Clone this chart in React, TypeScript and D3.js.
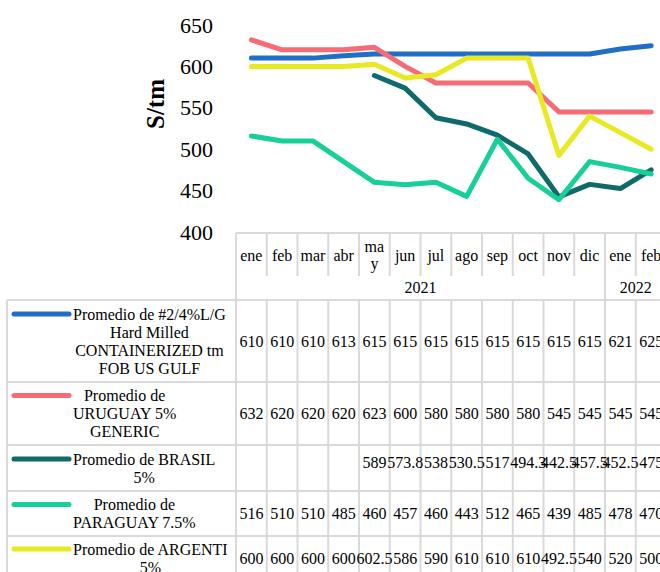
import React, { useEffect, useRef } from 'react'
import * as d3 from 'd3'

// months on the category axis
const months = ['ene', 'feb', 'mar', 'abr', 'may', 'jun', 'jul', 'ago', 'sep', 'oct', 'nov', 'dic', 'ene', 'feb']
const years = [
  { label: '2021', count: 12 },
  { label: '2022', count: 2 },
]
const yTicks = [400, 450, 500, 550, 600, 650]

const usGulf = [610, 610, 610, 613, 615, 615, 615, 615, 615, 615, 615, 615, 621, 625]
const uruguay = [632, 620, 620, 620, 623, 600, 580, 580, 580, 580, 545, 545, 545, 545]
const brasil = [null, null, null, null, 589, 573.8, 538, 530.5, 517, 494.3, 442.5, 457.5, 452.5, 475]
const paraguay = [516, 510, 510, 485, 460, 457, 460, 443, 512, 465, 439, 485, 478, 470]
const argentina = [600, 600, 600, 600, 602.5, 586, 590, 610, 610, 610, 492.5, 540, 520, 500]

const seriesNames = [
  ['Promedio de #2/4%L/G', 'Hard Milled', 'CONTAINERIZED tm', 'FOB US GULF'],
  ['Promedio de', 'URUGUAY 5%', 'GENERIC'],
  ['Promedio de BRASIL', '5%'],
  ['Promedio de', 'PARAGUAY 7.5%'],
  ['Promedio de ARGENTI', '5%'],
]
const seriesColors = ['#1f6fc6', '#f56c77', '#0f6a6c', '#17cf98', '#e8e823']

const App = () => {
  const svgRef = useRef(null)

  useEffect(() => {
    drawChart()
  }, [])

  function drawChart () {
    const svg = d3.select(svgRef.current)
    svg.selectAll('*').remove()

    const font = '"Liberation Serif", "Times New Roman", serif'
    const grid = '#d9d9d9'
    const series = [usGulf, uruguay, brasil, paraguay, argentina]

    const left = 236
    const colW = 30.75
    const tableTop = 233
    const headerBottom = 300
    // row bounds for the data table, and where each row's values sit
    const rowBounds = [300, 382, 445, 491, 536, 580]
    const valueY = [341, 413.5, 462, 513.5, 558]

    const x = d3.scaleBand()
      .domain(d3.range(months.length))
      .range([left, left + colW * months.length])
    const y = d3.scaleLinear().domain([400, 650]).range([232, 25])

    // y axis labels
    const yAxis = svg.append('g')
      .attr('transform', `translate(${left},0)`)
      .call(d3.axisLeft(y).tickValues(yTicks).tickSize(0).tickPadding(23))
    yAxis.select('.domain').remove()
    yAxis.selectAll('text')
      .style('font-family', font)
      .style('font-size', '22px')
      .attr('fill', '#000')

    svg.append('text')
      .attr('transform', 'translate(155,104) rotate(-90)')
      .attr('text-anchor', 'middle')
      .attr('dy', '0.35em')
      .style('font-family', font)
      .style('font-size', '25px')
      .style('font-weight', 'bold')
      .text('S/tm')

    // table grid
    const g = svg.append('g').attr('stroke', grid).attr('stroke-width', 2)
    g.append('line').attr('x1', left).attr('x2', 700).attr('y1', tableTop).attr('y2', tableTop)
    rowBounds.forEach(r => {
      g.append('line').attr('x1', 7).attr('x2', 700).attr('y1', r).attr('y2', r)
    })
    g.append('line').attr('x1', 7).attr('x2', 7).attr('y1', headerBottom).attr('y2', 600)
    d3.range(months.length + 1).forEach(i => {
      const xx = left + i * colW
      g.append('line').attr('x1', xx).attr('x2', xx).attr('y1', headerBottom).attr('y2', 600)
      g.append('line').attr('x1', xx).attr('x2', xx).attr('y1', tableTop).attr('y2', 276)
    })
    let acc = 0
    years.forEach(yr => {
      const xx = left + acc * colW
      g.append('line').attr('x1', xx).attr('x2', xx).attr('y1', tableTop).attr('y2', headerBottom)
      acc += yr.count
    })
    g.append('line').attr('x1', left + acc * colW).attr('x2', left + acc * colW).attr('y1', tableTop).attr('y2', headerBottom)

    // month labels
    months.forEach((m, i) => {
      const cx = x(i) + x.bandwidth() / 2
      const t = svg.append('text')
        .attr('text-anchor', 'middle')
        .style('font-family', font)
        .style('font-size', '16px')
      if (m === 'may') {
        t.append('tspan').attr('x', cx).attr('y', 246).attr('dy', '0.35em').text('ma')
        t.append('tspan').attr('x', cx).attr('y', 263).attr('dy', '0.35em').text('y')
      } else {
        t.attr('x', cx).attr('y', 255).attr('dy', '0.35em').text(m)
      }
    })
    acc = 0
    years.forEach(yr => {
      const cx = left + (acc + yr.count / 2) * colW
      svg.append('text')
        .attr('x', cx).attr('y', 287).attr('dy', '0.35em')
        .attr('text-anchor', 'middle')
        .style('font-family', font)
        .style('font-size', '16px')
        .text(yr.label)
      acc += yr.count
    })

    // legend keys + values
    series.forEach((vals, s) => {
      const lines = seriesNames[s]
      const mid = (rowBounds[s] + rowBounds[s + 1]) / 2
      const firstY = mid - (lines.length - 1) * 18 / 2
      svg.append('line')
        .attr('x1', 14).attr('x2', 69)
        .attr('y1', firstY).attr('y2', firstY)
        .attr('stroke', seriesColors[s])
        .attr('stroke-width', 5)
        .attr('stroke-linecap', 'round')
      const lab = svg.append('g')
        .style('font-family', font)
        .style('font-size', '16px')
      const texts = lines.map((ln, i) => lab.append('text')
        .attr('y', firstY + i * 18)
        .attr('dy', '0.35em')
        .attr('text-anchor', 'middle')
        .text(ln))
      const widest = d3.max(texts, t => t.node().getComputedTextLength())
      texts.forEach(t => t.attr('x', 73 + widest / 2))

      vals.forEach((v, i) => {
        if (v == null) return
        svg.append('text')
          .attr('x', x(i) + x.bandwidth() / 2)
          .attr('y', valueY[s])
          .attr('dy', '0.35em')
          .attr('text-anchor', 'middle')
          .style('font-family', font)
          .style('font-size', '16px')
          .text(String(v))
      })
    })

    // series lines
    const line = d3.line()
      .defined(d => d != null)
      .x((d, i) => x(i) + x.bandwidth() / 2)
      .y(d => y(d))
    series.forEach((vals, s) => {
      svg.append('path')
        .datum(vals)
        .attr('d', line)
        .attr('fill', 'none')
        .attr('stroke', seriesColors[s])
        .attr('stroke-width', 5)
        .attr('stroke-linejoin', 'round')
        .attr('stroke-linecap', 'round')
    })
  }

  return (
    <div style={{ position: 'absolute', left: 0, top: 0, width: 660, height: 572, overflow: 'hidden', background: '#fff' }}>
      <svg ref={svgRef} width={660} height={572} />
    </div>
  )
}

export default App
